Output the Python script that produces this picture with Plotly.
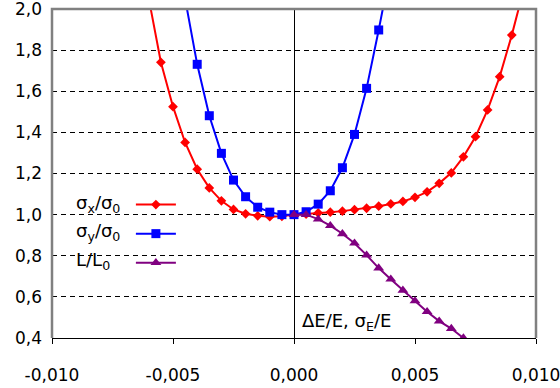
import plotly.graph_objects as go

# ---- data ----
sx_x = [-0.0060, -0.0055, -0.0050, -0.0045, -0.0040, -0.0035, -0.0030, -0.0025, -0.0020,
        -0.0015, -0.0010, -0.0005, 0.0000, 0.0005, 0.0010, 0.0015, 0.0020, 0.0025,
        0.0030, 0.0035, 0.0040, 0.0045, 0.0050, 0.0055, 0.0060, 0.0065, 0.0070,
        0.0075, 0.0080, 0.0085, 0.0090, 0.0095]
sx_y = [2.05, 1.741, 1.525, 1.351, 1.221, 1.130, 1.067, 1.025, 1.004,
        0.994, 0.990, 0.992, 1.000, 1.003, 1.008, 1.012, 1.017, 1.024,
        1.031, 1.041, 1.052, 1.064, 1.084, 1.111, 1.152, 1.203, 1.281,
        1.379, 1.509, 1.671, 1.873, 2.10]

sy_x = [-0.0045, -0.0040, -0.0035, -0.0030, -0.0025, -0.0020, -0.0015, -0.0010, -0.0005,
        0.0000, 0.0005, 0.0010, 0.0015, 0.0020, 0.0025, 0.0030, 0.0035, 0.0040]
sy_y = [2.05, 1.731, 1.481, 1.298, 1.168, 1.087, 1.036, 1.012, 1.000,
        1.000, 1.014, 1.051, 1.116, 1.228, 1.390, 1.614, 1.898, 2.20]

l_x = [0.0000, 0.0005, 0.0010, 0.0015, 0.0020, 0.0025, 0.0030, 0.0035, 0.0040,
       0.0045, 0.0050, 0.0055, 0.0060, 0.0065, 0.0070, 0.0075]
l_y = [1.000, 1.000, 0.978, 0.946, 0.907, 0.861, 0.803, 0.740, 0.686,
       0.632, 0.580, 0.528, 0.482, 0.446, 0.400, 0.360]

series_labels = ["σ<sub>x</sub>/σ<sub>0</sub>", "σ<sub>y</sub>/σ<sub>0</sub>", "L/L<sub>0</sub>"]
axis_label = "ΔE/E, σ<sub>E</sub>/E"

x_tick_vals = [-0.010, -0.005, 0.000, 0.005, 0.010]
x_tick_text = ["-0,010", "-0,005", "0,000", "0,005", "0,010"]
y_tick_vals = [0.4, 0.6, 0.8, 1.0, 1.2, 1.4, 1.6, 1.8, 2.0]
y_tick_text = ["0,4", "0,6", "0,8", "1,0", "1,2", "1,4", "1,6", "1,8", "2,0"]

FONT = "DejaVu Sans"

fig = go.Figure()
fig.add_trace(go.Scatter(x=sx_x, y=sx_y, mode="lines+markers", name=" ",
                         legendgroup="a",
                         line=dict(color="#FF0000", width=2),
                         marker=dict(symbol="diamond", size=7.5, color="#FF0000")))
fig.add_trace(go.Scatter(x=sy_x, y=sy_y, mode="lines+markers", name=" ",
                         legendgroup="b",
                         line=dict(color="#0000FF", width=2),
                         marker=dict(symbol="square", size=9, color="#0000FF")))
fig.add_trace(go.Scatter(x=l_x, y=l_y, mode="lines+markers", name=" ",
                         legendgroup="c",
                         line=dict(color="#800080", width=2),
                         marker=dict(symbol="triangle-up", size=9.5, color="#800080")))

fig.update_layout(
    template="none",
    width=560, height=388,
    margin=dict(l=52, r=24, t=9, b=50, autoexpand=False),
    paper_bgcolor="white", plot_bgcolor="white",
    separators=", ",
    font=dict(family=FONT, size=17, color="black"),
    showlegend=True,
    legend=dict(x=0.163, y=0.459, xanchor="left", yanchor="top",
                bgcolor="rgba(0,0,0,0)", borderwidth=0,
                traceorder="grouped", tracegroupgap=4,
                font=dict(size=17), itemwidth=40),
    xaxis=dict(range=[-0.010, 0.010], tickvals=x_tick_vals, ticktext=x_tick_text,
               automargin=False, ticklabeloverflow="allow",
               showgrid=False, zeroline=True, zerolinecolor="black", zerolinewidth=1,
               showline=True, linecolor="black", linewidth=1,
               ticks="outside", ticklen=5, tickcolor="black",
               ticklabelstandoff=17, fixedrange=True),
    yaxis=dict(range=[0.4, 2.0], tickvals=y_tick_vals, ticktext=y_tick_text,
               automargin=False, ticklabeloverflow="allow",
               showgrid=True, gridcolor="black", gridwidth=1, griddash="5px,4px",
               zeroline=False, showline=False, ticks="",
               ticklabelstandoff=9, fixedrange=True),
    shapes=[dict(type="path", xref="paper", yref="paper",
                 path="M0,0 L0,1 L1,1 L1,0",
                 line=dict(color="#808080", width=2.5), layer="above")],
)

# legend texts (left of the symbols, as in the original)
leg_y = [0.407, 0.322, 0.233]
for lab, yy in zip(series_labels, leg_y):
    fig.add_annotation(text=lab, xref="paper", yref="paper", x=0.046, y=yy,
                       xanchor="left", yanchor="middle", showarrow=False,
                       font=dict(family=FONT, size=18, color="black"))

fig.add_annotation(text=axis_label, xref="paper", yref="paper", x=0.513, y=0.005,
                   xanchor="left", yanchor="bottom", showarrow=False,
                   font=dict(family=FONT, size=18, color="black"))

fig.write_html("out.html",
               config={"displayModeBar": False},
               post_script="document.body.style.margin='0px';document.body.style.overflow='hidden';")
